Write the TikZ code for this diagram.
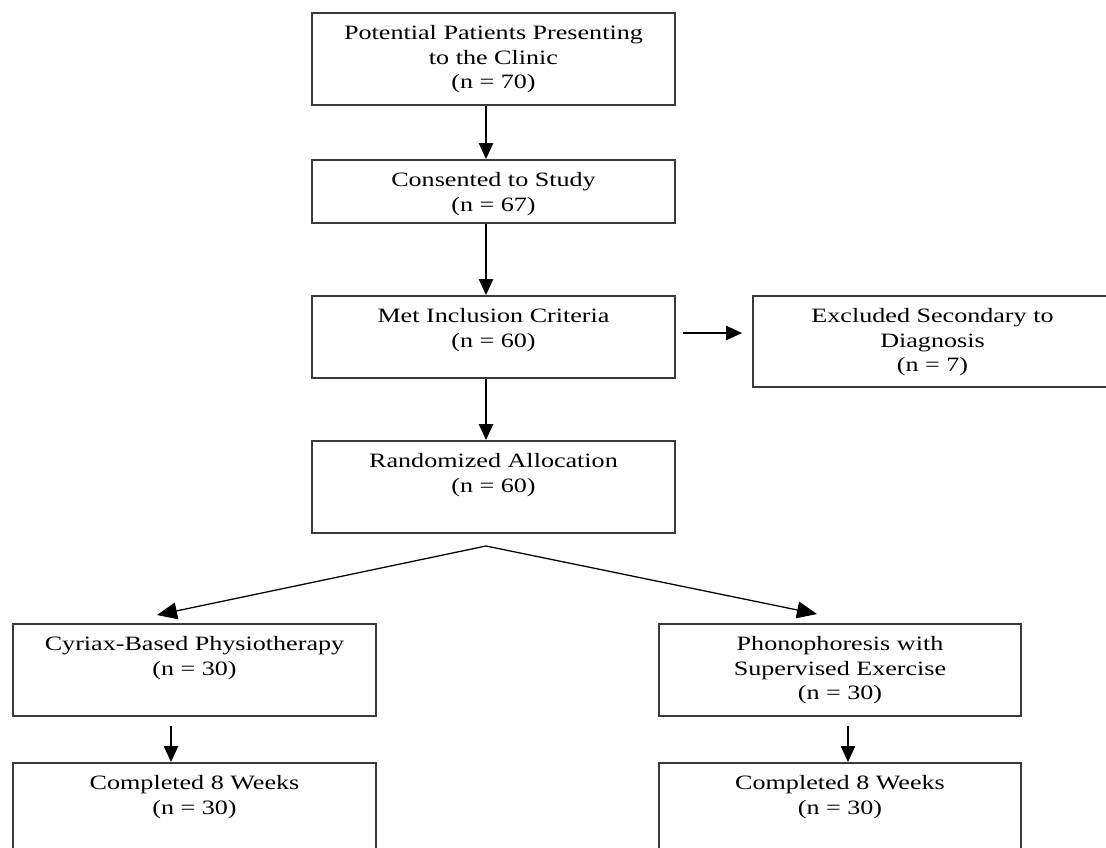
\documentclass[tikz,border=0pt]{standalone}
\usepackage{fontspec}
\setmainfont{Liberation Serif}[FakeStretch=1.28]
\usetikzlibrary{arrows.meta, calc}
\definecolor{cframe}{HTML}{3A3A3A}
\tikzset{
  every picture/.style={x=0.025cm, y=-0.025cm},
  stage/.style 2 args={draw=cframe, line width=1.4pt, inner sep=0pt, minimum width=#1*0.025cm, minimum height=#2*0.025cm},
  stagetext/.style={anchor=north, inner sep=0pt, yshift=-0.33cm, align=center, font=\fontsize{14.5}{17.4}\selectfont},
  flow/.style={-{Triangle[length=0.4cm, width=0.36cm]}, line width=1pt},
  split/.style={-{Triangle[length=0.5cm, width=0.42cm]}, line width=0.9pt},
}
\begin{document}
\begin{tikzpicture}
  \useasboundingbox (0,0) rectangle (1106,848);
  % main column
  \node[stage={363}{92}, label={[stagetext]north:{Potential Patients Presenting\\to the Clinic\\(n = 70)}}] (potential) at (493.5,59) {};
  \node[stage={363}{63}, label={[stagetext]north:{Consented to Study\\(n = 67)}}] (consent) at (493.5,191.5) {};
  \node[stage={363}{82}, label={[stagetext]north:{Met Inclusion Criteria\\(n = 60)}}] (met) at (493.5,337) {};
  \node[stage={359}{91}, label={[stagetext]north:{Excluded Secondary to\\Diagnosis\\(n = 7)}}] (excluded) at (932.5,341.5) {};
  \node[stage={363}{92}, label={[stagetext]north:{Randomized Allocation\\(n = 60)}}] (random) at (493.5,487) {};
  % two arms
  \node[stage={363}{92}, label={[stagetext]north:{Cyriax-Based Physiotherapy\\(n = 30)}}] (cyriax) at (194.5,670) {};
  \node[stage={362}{92}, label={[stagetext]north:{Phonophoresis with\\Supervised Exercise\\(n = 30)}}] (phono) at (840,670) {};
  \node[stage={363}{107}, label={[stagetext]north:{Completed 8 Weeks\\(n = 30)}}] (cyrdone) at (194.5,816.5) {};
  \node[stage={362}{107}, label={[stagetext]north:{Completed 8 Weeks\\(n = 30)}}] (phodone) at (840,816.5) {};
  % arrows
  \draw[flow] ($(potential.south)+(-7.5,0)$) -- ($(consent.north)+(-7.5,0)$);
  \draw[flow] ($(consent.south)+(-7.5,0)$) -- ($(met.north)+(-7.5,0)$);
  \draw[flow] ($(met.south)+(-7.5,0)$) -- ($(random.north)+(-7.5,0)$);
  \draw[flow, shorten <=0.175cm, shorten >=0.25cm] ($(met.east)+(0,-4)$) -- ($(excluded.west)+(0,-8.5)$);
  \coordinate (fork) at ($(random.south)+(-7.5,12)$);
  \draw[split] (fork) -- ($(cyriax.north)+(-37.5,-8)$);
  \draw[split] (fork) -- ($(phono.north)+(-23,-9)$);
  \draw[flow, shorten <=0.225cm] ($(cyriax.south)+(-23.5,0)$) -- ($(cyrdone.north)+(-23.5,0)$);
  \draw[flow, shorten <=0.225cm] ($(phono.south)+(8,0)$) -- ($(phodone.north)+(8,0)$);
\end{tikzpicture}
\end{document}
